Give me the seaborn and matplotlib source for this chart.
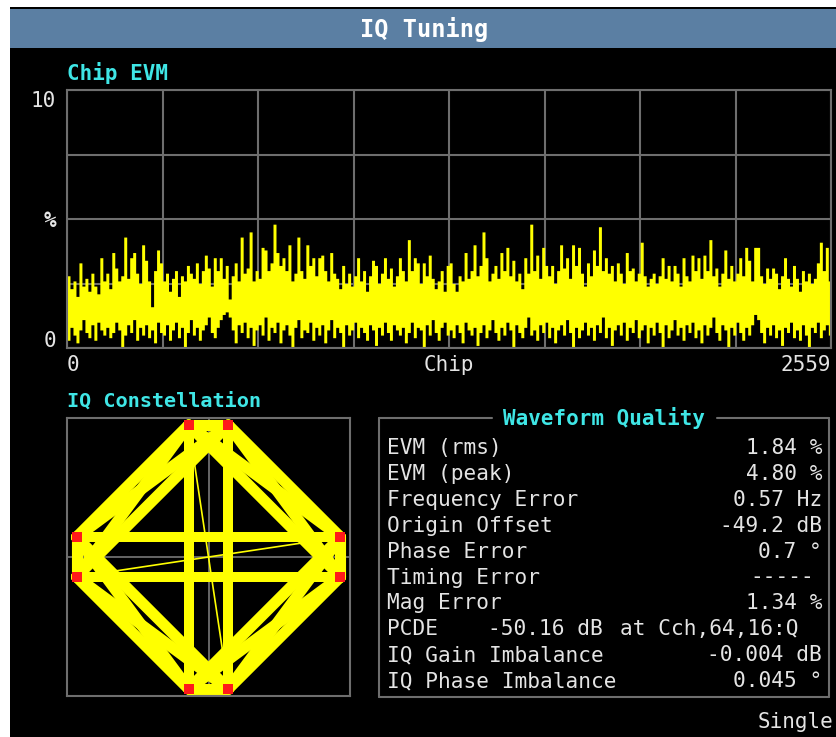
import numpy as np
import pandas as pd
import matplotlib
matplotlib.use("Agg")
import matplotlib.pyplot as plt
import seaborn as sns
from matplotlib.patches import Rectangle
from matplotlib.lines import Line2D
from matplotlib.ticker import LinearLocator, MultipleLocator
from matplotlib.transforms import ScaledTranslation

# ---------------- data ----------------
# Chip EVM (%), peak-held per block of 10 chips: block maximum and minimum
evm_hi = [
    2.8, 2.3, 2.6, 2.0, 3.3, 2.4, 2.7, 2.2, 2.9, 2.4, 2.1, 3.5, 2.6, 2.9, 2.3, 3.7,
    3.1, 2.6, 2.8, 4.3, 2.7, 3.5, 3.7, 2.9, 2.5, 4.0, 3.4, 2.6, 1.6, 3.0, 3.8, 3.3,
    2.6, 2.9, 2.2, 2.7, 3.0, 2.0, 2.8, 2.6, 3.2, 2.9, 2.7, 3.3, 2.5, 3.0, 3.6, 3.1,
    2.4, 3.5, 3.0, 3.5, 2.7, 3.2, 1.9, 2.8, 3.3, 2.6, 4.3, 2.9, 3.1, 4.5, 2.6, 3.0,
    2.7, 3.9, 3.8, 3.0, 3.3, 4.8, 3.7, 3.2, 3.5, 3.0, 4.0, 2.6, 2.9, 4.3, 3.0, 2.7,
    4.0, 3.2, 3.5, 2.8, 3.5, 3.6, 3.0, 2.6, 3.7, 2.9, 2.7, 2.3, 3.2, 2.5, 2.9, 2.4,
    2.8, 3.5, 2.6, 3.0, 2.2, 2.8, 3.4, 3.2, 2.5, 2.9, 3.5, 2.7, 3.1, 2.4, 2.8, 3.5,
    3.0, 2.6, 4.2, 3.0, 3.5, 3.3, 2.5, 3.3, 2.8, 3.6, 2.7, 2.3, 2.6, 3.0, 2.2, 3.2,
    3.3, 2.5, 2.2, 2.8, 2.6, 3.7, 2.7, 3.0, 4.0, 2.8, 3.2, 4.5, 3.5, 2.6, 2.9, 3.2,
    2.7, 3.7, 3.0, 3.9, 2.8, 3.4, 2.6, 2.9, 2.3, 3.5, 2.9, 4.8, 3.0, 3.6, 2.7, 3.9,
    3.2, 2.8, 3.2, 2.5, 3.0, 4.0, 3.1, 3.5, 2.7, 4.0, 3.2, 3.9, 2.9, 2.4, 3.3, 2.8,
    3.8, 3.2, 4.7, 3.0, 3.5, 2.9, 3.2, 2.6, 3.3, 2.9, 2.5, 3.7, 3.0, 3.1, 2.6, 2.9,
    4.1, 2.8, 2.4, 2.7, 2.9, 2.5, 2.8, 3.5, 2.7, 3.2, 2.6, 3.2, 2.9, 2.4, 3.5, 2.8,
    2.6, 3.6, 3.0, 3.5, 2.7, 3.6, 3.0, 4.2, 2.8, 3.1, 2.4, 2.9, 3.8, 2.7, 3.2, 2.6,
    2.9, 3.5, 2.8, 3.9, 3.4, 2.6, 3.9, 3.9, 2.8, 2.5, 3.1, 2.7, 3.1, 2.9, 2.3, 2.8,
    3.5, 2.7, 2.4, 3.2, 2.7, 2.2, 3.0, 2.6, 2.9, 2.5, 2.7, 3.3, 4.1, 3.0, 3.9, 2.6,
]
evm_lo = [
    0.3, 0.8, 0.5, 0.2, 0.7, 1.1, 0.6, 0.4, 0.9, 0.3, 1.0, 0.7, 0.5, 0.8, 0.4, 0.6,
    1.0, 0.7, 0.0, 0.5, 0.9, 0.6, 1.1, 0.3, 0.8, 0.5, 0.9, 0.4, 0.7, 0.2, 1.0, 0.6,
    0.5, 0.9, 0.3, 0.7, 1.0, 0.4, 0.8, 0.0, 0.6, 1.1, 0.5, 0.8, 0.3, 0.7, 0.9, 1.2,
    0.6, 0.4, 0.8, 1.1, 1.3, 1.4, 1.2, 0.7, 0.2, 0.9, 0.6, 1.0, 0.4, 0.8, 0.1, 0.7,
    0.9, 0.5, 1.2, 0.3, 0.8, 0.6, 1.0, 0.2, 0.7, 0.9, 0.5, 0.0, 0.8, 1.1, 0.4, 0.7,
    0.6, 1.0, 0.3, 0.8, 0.5, 0.9, 0.2, 0.7, 1.1, 0.4, 0.8, 0.6, 0.0, 0.9, 0.5, 0.7,
    1.0, 0.4, 0.8, 0.6, 0.3, 0.9, 0.7, 0.1, 0.8, 0.5, 1.0, 0.6, 0.3, 0.9, 0.7, 0.5,
    0.8, 0.2, 0.6, 1.0, 0.4, 0.8, 0.7, 0.0, 0.9, 0.5, 1.1, 0.6, 0.3, 0.8, 1.0, 0.5,
    0.7, 0.4, 0.9, 0.6, 0.2, 1.0, 0.7, 0.5, 0.8, 0.1, 0.6, 0.9, 0.4, 0.7, 1.1, 0.6,
    0.3, 0.8, 0.5, 1.0, 0.7, 0.0, 0.9, 0.6, 0.4, 0.8, 1.2, 0.5, 0.7, 0.3, 0.9, 0.6,
    1.0, 0.4, 0.8, 0.2, 0.7, 0.9, 0.5, 1.1, 0.6, 0.0, 0.8, 0.4, 0.7, 1.0, 0.5, 0.8,
    0.3, 0.9, 0.6, 1.2, 0.4, 0.8, 0.1, 0.7, 0.9, 0.5, 1.0, 0.3, 0.8, 0.6, 1.1, 0.4,
    0.7, 0.9, 0.2, 0.8, 0.5, 1.0, 0.6, 0.0, 0.9, 0.4, 0.7, 1.1, 0.5, 0.8, 0.3, 0.9,
    0.6, 1.0, 0.4, 0.7, 0.2, 0.9, 0.5, 0.8, 1.2, 0.6, 0.3, 0.9, 0.7, 0.0, 0.8, 0.5,
    1.0, 0.6, 0.3, 0.8, 0.5, 0.9, 1.3, 1.1, 0.6, 0.2, 0.8, 0.5, 0.9, 0.4, 0.7, 0.1,
    0.8, 0.6, 1.0, 0.4, 0.7, 0.3, 0.9, 0.5, 0.0, 0.8, 0.6, 1.0, 0.4, 0.7, 0.9, 0.5,
]
chip_block = 10
chip_last = 2559

evm_ticks = [0, 5, 10]
evm_tick_labels = ["0", "%", "10"]
chip_tick_labels = ["0", "Chip", "2559"]

# IQ constellation: symbol decision points (normalised I, Q)
iq_I = [0.15, -0.15, -1.0, -1.0, -0.15, 0.15, 1.0, 1.0]
iq_Q = [1.0, 1.0, 0.15, -0.15, -1.0, -1.0, -0.15, 0.15]

# symbol-to-symbol transitions seen in the trajectory
edge_transitions = [(0, 2), (0, 3), (1, 2), (1, 3), (2, 4), (2, 5), (3, 4), (3, 5),
                    (4, 6), (4, 7), (5, 6), (5, 7), (6, 0), (6, 1), (7, 0), (7, 1)]
cross_transitions = [(1, 4), (0, 5), (2, 7), (3, 6)]
pair_transitions = [(0, 1), (2, 3), (4, 5), (6, 7)]
rare_transitions = [(1, 5), (3, 7)]

# Waveform quality readout
quality_labels = ["EVM (rms)", "EVM (peak)", "Frequency Error", "Origin Offset",
                  "Phase Error", "Timing Error", "Mag Error", "PCDE",
                  "IQ Gain Imbalance", "IQ Phase Imbalance"]
quality_values = ["1.84 %", "4.80 %", "0.57 Hz", "-49.2 dB", "0.7 °", "-----",
                  "1.34 %", "-50.16 dB", "-0.004 dB", "0.045 °"]
pcde_where = "at Cch,64,16:Q"

# ---------------- style ----------------
sns.set_theme(style="dark")
plt.rcParams["font.family"] = ["DejaVu Sans Mono", "DejaVu Sans"]

W, H = 836, 737
GRID = "#6e6e6e"
TXT = "#e4e4e4"
CYAN = "#3fe6e6"
YEL = "#ffff00"

fig = plt.figure(figsize=(W / 100, H / 100), dpi=100, facecolor="white")


def fx(px):
    return px / W


def fy(py):
    return 1 - py / H


# screen background and title bar
fig.add_artist(Rectangle((fx(10), 0), 1 - fx(10), fy(7), transform=fig.transFigure,
                         facecolor="black", edgecolor="none", zorder=-10))
fig.add_artist(Rectangle((fx(10), fy(48)), 1 - fx(10), fy(9) - fy(48),
                         transform=fig.transFigure, facecolor="#5b7fa3",
                         edgecolor="none", zorder=-9))
fig.text(fx(424), fy(29), "IQ Tuning", color="white", fontsize=17,
         fontweight="bold", ha="center", va="center")

# ---------------- Chip EVM ----------------
fig.text(fx(67), fy(73), "Chip EVM", color=CYAN, fontsize=15, fontweight="bold",
         ha="left", va="center")
ax1 = fig.add_axes([fx(67), fy(348), fx(831) - fx(67), fy(90) - fy(348)])
ax1.set_facecolor("black")

chips = np.arange(len(evm_hi)) * chip_block
x_edges = np.append(chips, chip_last)
lo = np.append(evm_lo, evm_lo[-1])
hi = np.append(evm_hi, evm_hi[-1])
ax1.fill_between(x_edges, lo, hi, step="post", color=YEL, linewidth=0,
                 antialiased=False, zorder=2)

ax1.set_xlim(0, chip_last)
ax1.set_ylim(0, 10)
ax1.set_xticks([0, chip_last / 2, chip_last], chip_tick_labels)
ax1.set_yticks(evm_ticks, evm_tick_labels)
ax1.xaxis.set_minor_locator(LinearLocator(9))
ax1.yaxis.set_minor_locator(MultipleLocator(2.5))
ax1.grid(which="both", color=GRID, linewidth=1.5)
ax1.set_axisbelow(True)
ax1.tick_params(which="both", length=0, colors=TXT, labelsize=15)
ax1.tick_params(axis="x", pad=5)
ax1.tick_params(axis="y", pad=8)
xl = ax1.get_xticklabels()
xl[0].set_ha("left")
xl[-1].set_ha("right")
yl = ax1.get_yticklabels()
# keep the end labels inside the plot height
yl[0].set_transform(yl[0].get_transform() + ScaledTranslation(0, 0.09, fig.dpi_scale_trans))
yl[-1].set_transform(yl[-1].get_transform() + ScaledTranslation(0, -0.09, fig.dpi_scale_trans))
yl[1].set_fontweight("bold")
for s in ax1.spines.values():
    s.set_color(GRID)
    s.set_linewidth(1.5)

# ---------------- IQ Constellation ----------------
fig.text(fx(67), fy(401), "IQ Constellation", color=CYAN, fontsize=14.5,
         fontweight="bold", ha="left", va="center")
ax2 = fig.add_axes([fx(67), fy(696), fx(350) - fx(67), fy(418) - fy(696)])
ax2.set_facecolor("black")
ax2.axhline(0, color=GRID, lw=1.3, zorder=0.5)
ax2.axvline(0, color=GRID, lw=1.3, zorder=0.5)


def segments(pairs):
    rows = []
    for k, (a, b) in enumerate(pairs):
        for p in (a, b):
            rows.append({"seg": k, "I": iq_I[p], "Q": iq_Q[p]})
    return pd.DataFrame(rows)


for pairs, lw in [(rare_transitions, 1.2), (edge_transitions, 8.0),
                  (cross_transitions, 7.2), (pair_transitions, 8.0)]:
    sns.lineplot(data=segments(pairs), x="I", y="Q", units="seg", estimator=None,
                 sort=False, color=YEL, linewidth=lw, solid_capstyle="round",
                 legend=False, ax=ax2, zorder=2 if lw > 2 else 3)

sns.scatterplot(x=iq_I, y=iq_Q, color="#ff1a1a", s=50, marker="s", linewidth=0,
                ax=ax2, zorder=5)
ax2.set_xlim(-1.072, 1.072)
ax2.set_ylim(-1.053, 1.053)
ax2.set_xticks([])
ax2.set_yticks([])
ax2.set_xlabel("")
ax2.set_ylabel("")
for s in ax2.spines.values():
    s.set_color(GRID)
    s.set_linewidth(1.5)

# ---------------- Waveform Quality ----------------
box = dict(color=GRID, lw=1.5, transform=fig.transFigure)
for xs, ys in [((379, 379), (418, 697)), ((829, 829), (418, 697)),
               ((379, 829), (697, 697)), ((379, 492), (418, 418)),
               ((717, 829), (418, 418))]:
    fig.add_artist(Line2D([fx(v) for v in xs], [fy(v) for v in ys], **box))
fig.text(fx(604), fy(418), "Waveform Quality", color=CYAN, fontsize=15,
         fontweight="bold", ha="center", va="center")

row_y0, row_dy = 448, 25.9
for k, (lab, val) in enumerate(zip(quality_labels, quality_values)):
    y = fy(row_y0 + k * row_dy)
    fig.text(fx(387), y, lab, color=TXT, fontsize=15.2, ha="left", va="center")
    if lab == "PCDE":
        fig.text(fx(488), y, val, color=TXT, fontsize=15.2, ha="left", va="center")
        fig.text(fx(620), y, pcde_where, color=TXT, fontsize=15.2, ha="left",
                 va="center")
    elif val.startswith("--"):
        fig.text(fx(814), y, val, color=TXT, fontsize=15.2, ha="right", va="center")
    else:
        fig.text(fx(822), y, val, color=TXT, fontsize=15.2, ha="right", va="center")

fig.text(fx(833), fy(722), "Single", color=TXT, fontsize=15, ha="right", va="center")

fig.savefig("out.png", dpi=100, facecolor="white")
